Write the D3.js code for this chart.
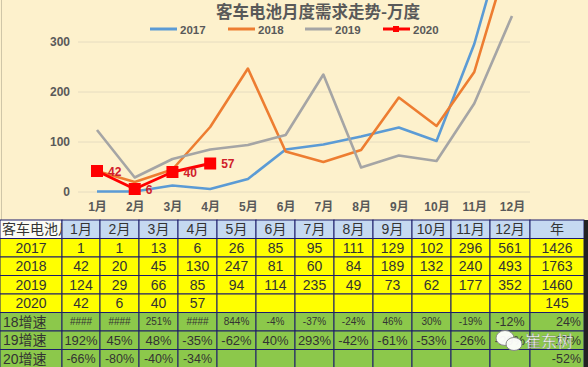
<!DOCTYPE html>
<html><head><meta charset="utf-8">
<script src="https://cdn.jsdelivr.net/npm/d3@7"></script>
<style>body{margin:0;background:#fff}svg{display:block}</style>
</head><body><svg id="c" width="588" height="367"></svg>
<script>
const months = ['1月','2月','3月','4月','5月','6月','7月','8月','9月','10月','11月','12月'];
const years = ['2017','2018','2019','2020'];
const s2017 = [1,1,13,6,26,85,95,111,129,102,296,561];
const s2018 = [42,20,45,130,247,81,60,84,189,132,240,493];
const s2019 = [124,29,66,85,94,114,235,49,73,62,177,352];
const s2020 = [42,6,40,57];
const totals = [1426,1763,1460,145];
const g18 = ['####','####','251%','####','844%','-4%','-37%','-24%','46%','30%','-19%','-12%','24%'];
const g19 = ['192%','45%','48%','-35%','-62%','40%','293%','-42%','-61%','-53%','-26%','-29%','-17%'];
const g20 = ['-66%','-80%','-40%','-34%','','','','','','','','','-52%'];
const yTicks = [0,100,200,300];
const colors = ['#5B9BD5','#ED7D31','#A5A5A5','#FF0000'];

const svg = d3.select('#c');
const defs = svg.append('defs');
defs.append('clipPath').attr('id','hc').append('rect').attr('x',0).attr('y',220).attr('width',61.5).attr('height',18.5);
svg.append('rect').attr('width',588).attr('height',367).attr('fill','#FDF1CC');
svg.append('line').attr('x1',1.5).attr('x2',1.5).attr('y1',0).attr('y2',220).attr('stroke','#cfc6a8');

const x = d3.scalePoint().domain(months).range([97,512]);
const y = d3.scaleLinear().domain([0,300]).range([192,42]);

svg.append('g').selectAll('line').data(yTicks).join('line')
  .attr('x1',78).attr('x2',530).attr('y1',d=>y(d)).attr('y2',d=>y(d))
  .attr('stroke','#E6DCC0').attr('stroke-width',1);
const yAxis = svg.append('g').attr('transform','translate(70,0)')
  .call(d3.axisLeft(y).tickValues(yTicks).tickSize(0).tickPadding(0));
yAxis.select('.domain').remove();
yAxis.selectAll('text').attr('font-size',12).attr('font-weight','bold')
  .attr('font-family','Liberation Sans, Arial, sans-serif').attr('fill','#595959');
const xAxis = svg.append('g').attr('transform','translate(0,200)')
  .call(d3.axisBottom(x).tickSize(0).tickPadding(2));
xAxis.select('.domain').remove();
xAxis.selectAll('text').attr('font-size',12).attr('font-weight','bold')
  .attr('font-family','Liberation Sans, Noto Sans CJK SC, sans-serif').attr('fill','#595959');

const series = [s2017,s2018,s2019,s2020];
const line = d3.line().x((d,i)=>x(months[i])).y(d=>y(d));
series.forEach((s,k)=>{
  svg.append('path').datum(s).attr('d',line).attr('fill','none')
    .attr('stroke',colors[k]).attr('stroke-width',k===3?3:2.6).attr('stroke-linejoin','round');
});
svg.append('g').selectAll('rect').data(s2020).join('rect')
  .attr('x',(d,i)=>x(months[i])-6).attr('y',d=>y(d)-6).attr('width',12).attr('height',12)
  .attr('fill','#FF0000');
svg.append('g').selectAll('text').data(s2020).join('text')
  .attr('x',(d,i)=>x(months[i])+11).attr('y',d=>y(d)+4.5)
  .attr('font-size',12).attr('font-weight','bold').attr('fill','#D0202A')
  .attr('font-family','Liberation Sans, Arial, sans-serif').text(d=>d);

svg.append('text').attr('x',318).attr('y',18).attr('text-anchor','middle')
  .attr('font-size',16.5).attr('font-weight','bold').attr('fill','#595959')
  .attr('font-family','Noto Sans CJK SC, sans-serif').text('客车电池月度需求走势-万度');
const lx = [150,228,305,383];
years.forEach((yr,k)=>{
  const g = svg.append('g');
  g.append('line').attr('x1',lx[k]).attr('x2',lx[k]+27).attr('y1',29).attr('y2',29)
    .attr('stroke',colors[k]).attr('stroke-width',3);
  if(k===3) g.append('rect').attr('x',lx[k]+10).attr('y',26).attr('width',6).attr('height',6).attr('fill','#FF0000');
  g.append('text').attr('x',lx[k]+30).attr('y',33.5).attr('font-size',11.5).attr('font-weight','bold')
    .attr('fill','#595959').attr('font-family','Liberation Sans, Arial, sans-serif').text(yr);
});

const colX = [0,62,100,139,178,217,256,295,334,373,412,451,490,530,584];
const rowY = [220,238.5,257,275.5,294,312.5,331,349.5,368];
const rows = [
  {label:'客车电池月', cells:[...months,'年'], bg:'#C5D9F1', fs:14},
  {label:years[0], cells:[...s2017,totals[0]], bg:'#FFFF00', fs:14},
  {label:years[1], cells:[...s2018,totals[1]], bg:'#FFFF00', fs:14},
  {label:years[2], cells:[...s2019,totals[2]], bg:'#FFFF00', fs:14},
  {label:years[3], cells:[...s2020,'','','','','','','','',totals[3]], bg:'#FFFF00', fs:14},
  {label:'18增速', cells:g18, bg:'#8CC84B', fs:10},
  {label:'19增速', cells:g19, bg:'#8CC84B', fs:13},
  {label:'20增速', cells:g20, bg:'#8CC84B', fs:12.5}
];
const tg = svg.append('g');
rows.forEach((r,ri)=>{
  const y0 = rowY[ri], h = rowY[ri+1]-rowY[ri];
  const all = [r.label, ...r.cells];
  all.forEach((v,ci)=>{
    let bg = r.bg;
    if(ri===0 && ci===0) bg = '#FBFBF6';
    tg.append('rect').attr('x',colX[ci]).attr('y',y0).attr('width',colX[ci+1]-colX[ci]).attr('height',h)
      .attr('fill',bg).attr('stroke','#1C1C6B').attr('stroke-width',1);
  });
  all.forEach((v,ci)=>{
    const cx = (colX[ci]+colX[ci+1])/2;
    let fs = (ci===0) ? 14 : r.fs;
    if(ri===5 && (ci===12||ci===13)) fs = 12.5;
    let anchor = 'middle', tx = cx;
    if(ri===0 && ci===0){anchor='start'; tx=2;}
    if(ri>=5 && ci===0){anchor='start'; tx=3;}
    if(ri>=5 && ci===13){anchor='end'; tx=colX[14]-3;}
    const t = tg.append('text').attr('x',tx).attr('y',y0+h/2+fs*0.36).attr('text-anchor',anchor)
      .attr('font-size',fs).attr('fill','#333')
      .attr('font-family','Liberation Sans, Noto Sans CJK SC, sans-serif').text(v);
    if(ri===0 && ci===0) t.attr('clip-path','url(#hc)');
  });
});
tg.append('rect').attr('x',584).attr('y',220).attr('width',4).attr('height',147).attr('fill','#222');

const wm = svg.append('g').attr('opacity',0.95);
wm.append('ellipse').attr('cx',505).attr('cy',338).attr('rx',9).attr('ry',7.5).attr('fill','#fff').attr('stroke','#888');
wm.append('ellipse').attr('cx',514).attr('cy',344).attr('rx',8).attr('ry',6.5).attr('fill','#fff').attr('stroke','#888');
wm.append('text').attr('x',525).attr('y',347).attr('font-size',16).attr('fill','#fff')
  .attr('stroke','#777').attr('stroke-width',0.3)
  .attr('font-family','Noto Sans CJK SC, sans-serif').text('崔东树');
</script></body></html>
